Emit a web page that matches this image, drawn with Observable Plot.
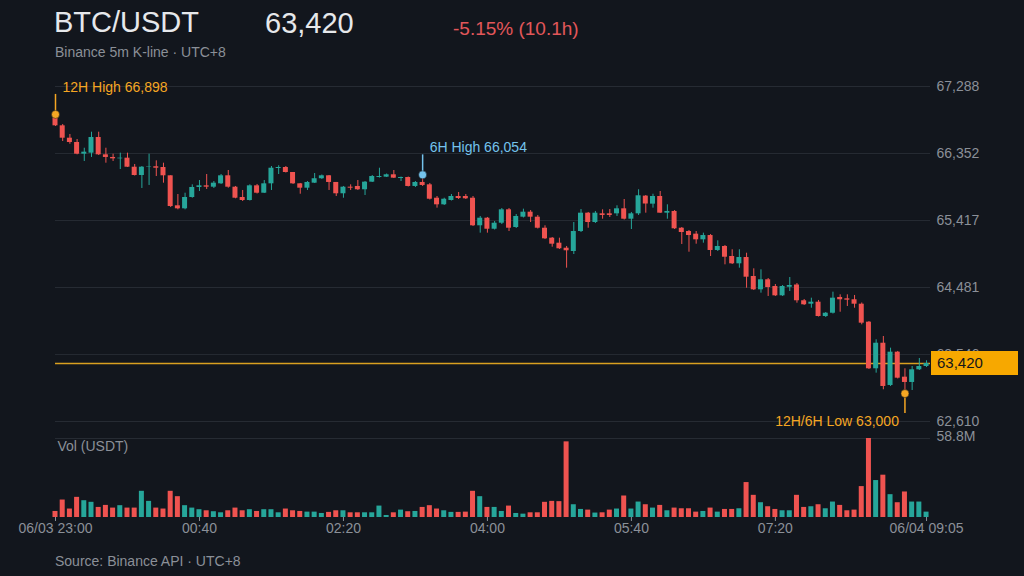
<!DOCTYPE html>
<html>
<head>
<meta charset="utf-8">
<script src="https://cdn.jsdelivr.net/npm/d3@7"></script>
<script src="https://cdn.jsdelivr.net/npm/@observablehq/plot@0.6"></script>
<style>
  html, body { margin: 0; padding: 0; background: #12161d; }
  #wrap { position: relative; width: 1024px; height: 576px; overflow: hidden; background: #12161d;
          font-family: "Liberation Sans", Arial, sans-serif; }
  .abs { position: absolute; white-space: nowrap; }
</style>
</head>
<body>
<div id="wrap">
  <div class="abs" style="left:54px;top:8px;font-size:29px;line-height:29px;color:#e6e8eb;">BTC/USDT</div>
  <div class="abs" style="left:265px;top:9px;font-size:29px;line-height:29px;color:#e6e8eb;">63,420</div>
  <div class="abs" style="left:453px;top:19px;font-size:19px;line-height:19px;color:#e2575a;">-5.15% (10.1h)</div>
  <div class="abs" style="left:55px;top:45px;font-size:14px;line-height:14px;color:#8b9098;">Binance 5m K-line · UTC+8</div>
  <div id="price" class="abs" style="left:0;top:60px;"></div>
  <div id="vol" class="abs" style="left:0;top:430px;"></div>
  <div id="box" class="abs" style="left:931px;width:87px;height:24px;background:#f7a800;color:#14161a;font-size:15px;line-height:24px;text-indent:6px;"></div>
  <div class="abs" style="left:55px;top:554px;font-size:14px;line-height:14px;color:#8b9098;">Source: Binance API · UTC+8</div>
</div>
<script>
// ---- data (5m candles, 06/03 23:00 .. 06/04 09:05, UTC+8) ----
const open = [66845,66739,66566,66506,66343,66357,66576,66334,66297,66278,
66287,66161,66045,66161,66167,66157,66041,65622,65580,65738,
65878,65901,65882,65929,66041,65882,65738,65696,65901,65798,
65929,66143,66157,66087,65929,65868,65938,66000,66041,65948,
65790,65882,65892,65846,65952,66017,66022,66055,66003,66017,
65892,65948,65915,65728,65636,65696,65752,65752,65728,65343,
65449,65295,65379,65566,65319,65463,65533,65463,65309,65170,
65100,65030,64984,65263,65519,65389,65510,65510,65510,65580,
65435,65510,65757,65645,65752,65519,65543,65309,65263,65226,
65147,65207,64998,65054,64914,64812,64900,64635,64449,64589,
64495,64365,64485,64516,64296,64248,64276,64076,64122,64342,
64323,64310,64248,63997,63346,63703,63113,63578,63229,63155,
63332,63378];
const high = [66898,66757,66618,66548,66426,66650,66650,66426,66343,66357,
66357,66199,66171,66343,66250,66217,66041,65780,65798,65915,
65975,66059,65961,66059,66115,65892,65836,65915,65920,65975,
66171,66181,66171,66087,65934,65961,66073,66052,66045,65948,
65892,65915,65975,65961,66045,66147,66066,66115,66024,66024,
65961,66054,65934,65752,65728,65780,65808,65780,65752,65473,
65459,65403,65584,65584,65501,65575,65556,65487,65343,65179,
65170,65054,65389,65570,65529,65543,65566,65570,65622,65710,
65529,65846,65766,65784,65822,65636,65556,65319,65277,65263,
65240,65221,65133,65068,65008,65008,64960,64742,64728,64607,
64523,64509,64621,64537,64314,64332,64300,64132,64416,64379,
64379,64370,64265,64006,63751,63797,63634,63588,63346,63378,
63490,63458];
const low = [66730,66520,66482,66334,66241,66297,66325,66217,66241,66129,
66157,66038,65864,65906,66031,65938,65598,65566,65566,65728,
65822,65850,65864,65920,65868,65720,65682,65689,65787,65794,
65836,66059,66080,65920,65784,65836,65934,65990,65836,65752,
65728,65836,65836,65766,65948,66010,66017,66003,65961,65885,
65878,65892,65703,65589,65626,65689,65710,65710,65333,65240,
65240,65284,65361,65263,65305,65452,65389,65298,65151,65044,
65012,64751,64942,65249,65309,65375,65435,65459,65473,65424,
65291,65487,65519,65589,65515,65435,65291,65082,64974,65086,
65100,64914,64984,64798,64802,64751,64471,64439,64402,64356,
64356,64356,64425,64262,64230,64192,64069,64062,64111,64136,
64216,64192,63960,63336,63285,63053,63099,63204,63000,63043,
63322,63364];
const close = [66739,66566,66506,66343,66371,66576,66334,66297,66278,66287,
66161,66045,66161,66167,66147,66041,65612,65580,65738,65878,
65901,65882,65938,66041,65882,65728,65696,65901,65798,65929,
66147,66157,66087,65929,65868,65948,66000,66041,65948,65790,
65882,65868,65846,65952,66031,66031,66055,66008,66017,65892,
65948,65906,65714,65636,65714,65752,65724,65720,65343,65449,
65295,65379,65566,65309,65473,65533,65463,65309,65161,65086,
65022,64994,65263,65519,65389,65519,65487,65487,65580,65435,
65510,65762,65647,65752,65519,65543,65301,65249,65207,65147,
65207,64998,65054,64904,64812,64900,64625,64449,64589,64481,
64365,64495,64509,64296,64240,64276,64076,64122,64332,64310,
64304,64248,63983,63346,63703,63099,63578,63215,63155,63332,
63378,63420];
// volume in millions of USDT
const volume = [4.5,13.0,6.3,15.0,12.5,11.3,7.5,9.0,7.0,8.8,
7.0,7.0,19.5,12.0,7.0,6.3,19.5,15.5,8.8,7.0,
5.8,5.0,4.3,3.5,5.0,7.0,5.0,5.8,4.5,5.8,
5.8,3.5,6.3,5.0,4.5,4.0,4.0,3.0,3.8,5.0,
5.0,3.5,3.5,3.5,3.5,8.5,1.5,3.5,5.5,4.3,
4.5,7.5,8.8,6.3,5.0,3.8,3.8,4.0,19.5,15.5,
7.5,7.5,4.5,8.5,3.0,2.5,3.5,3.5,11.3,12.0,
11.8,56.3,9.5,6.0,5.5,3.3,3.5,5.5,6.3,16.0,
6.3,11.5,9.5,7.0,9.0,5.0,7.0,6.5,6.5,4.0,
4.5,7.0,4.0,6.0,6.0,6.5,26.0,16.5,11.0,8.0,
6.0,5.0,5.0,16.5,7.5,8.0,9.5,6.5,11.5,9.0,
5.0,5.5,23.0,58.8,27.5,31.5,17.0,11.0,19.0,11.5,
11.5,4.0];
const priceTicks = [62610, 63546, 64481, 65417, 66352, 67288];
const volTicks = [58.8];
const xTickIndex = [0, 20, 40, 60, 80, 100, 121];
const xTickLabels = ["06/03 23:00", "00:40", "02:20", "04:00", "05:40", "07:20", "06/04 09:05"];
const lastPrice = 63420;
// annotations: high/low markers
const annLabels = ["12H High 66,898", "6H High 66,054", "12H/6H Low 63,000"];
const annIndex = [0, 51, 118];
const annPrice = [66898, 66054, 63000];
const annSide = ["above", "above", "below"];

// ---- styling ----
const GREEN = "#26a69a", RED = "#ef5350", ORANGE = "#f5a623", BLUE = "#74c3ec";
const LINE_ORANGE = "#d9a020";
const GRID = "#262b33", LABEL = "#8b9098";
const FONT = '"Liberation Sans", Arial, sans-serif';
const annColors = [ORANGE, BLUE, ORANGE];

const candles = open.map((o, i) => ({
  i, open: o, high: high[i], low: low[i], close: close[i], vol: volume[i]
}));
const col = d => (d.close >= d.open ? GREEN : RED);

const W = 1024;
const PH = 375, PT = 26, PB = 14;
const yDomain = [priceTicks[0], priceTicks[priceTicks.length - 1]];
const unitPerPx = (yDomain[1] - yDomain[0]) / (PH - PT - PB);
const xDomain = [0, 121.55];

const ann = annLabels.map((label, k) => {
  const dir = annSide[k] === "above" ? 1 : -1;
  return {
    label, i: annIndex[k], price: annPrice[k], color: annColors[k],
    tip: annPrice[k] + dir * 20 * unitPerPx, dir
  };
});

const pricePlot = Plot.plot({
  width: W, height: PH,
  marginLeft: 55, marginRight: 94, marginTop: PT, marginBottom: PB,
  style: { background: "transparent", color: LABEL, fontSize: "14px", fontFamily: FONT, overflow: "visible" },
  x: { domain: xDomain, axis: null },
  y: { domain: yDomain, label: null },
  marks: [
    Plot.ruleY(priceTicks, { stroke: GRID, strokeWidth: 1 }),
    Plot.axisY(priceTicks, { anchor: "right", label: null, tickSize: 0, tickPadding: 6, tickFormat: d3.format(","), fill: LABEL, fontSize: 14 }),
    Plot.ruleY([lastPrice], { stroke: LINE_ORANGE, strokeWidth: 1.6 }),
    Plot.ruleX(candles, { x: "i", y1: "low", y2: "high", stroke: col, strokeWidth: 1 }),
    Plot.rect(candles, {
      x1: d => d.i - 0.5, x2: d => d.i + 0.5, insetLeft: 1.1, insetRight: 1.1,
      y1: "open", y2: "close", fill: col
    }),
    Plot.ruleX(ann, { x: "i", y1: "price", y2: "tip", stroke: d => d.color, strokeWidth: 1.5 }),
    Plot.dot(ann, { x: "i", y: "price", r: 4, fill: d => d.color, stroke: "#12161d", strokeWidth: 0.5 }),
    Plot.text(ann.filter(d => d.dir > 0), {
      x: "i", y: "price", text: "label", fill: d => d.color, dx: 7, dy: -27,
      textAnchor: "start", lineAnchor: "middle", fontSize: 14
    }),
    Plot.text(ann.filter(d => d.dir < 0), {
      x: "i", y: "price", text: "label", fill: d => d.color, dx: -6, dy: 28,
      textAnchor: "end", lineAnchor: "middle", fontSize: 14
    })
  ]
});
document.getElementById("price").appendChild(pricePlot);

// current price tag, placed through the plot's y scale
const yPx = pricePlot.scale("y").apply(lastPrice);
const box = document.getElementById("box");
box.textContent = d3.format(",")(lastPrice);
box.style.top = (60 + yPx - 12) + "px";

const volPlot = Plot.plot({
  width: W, height: 110,
  marginLeft: 55, marginRight: 94, marginTop: 8, marginBottom: 23,
  style: { background: "transparent", color: LABEL, fontSize: "14px", fontFamily: FONT, overflow: "visible" },
  x: { domain: xDomain, label: null },
  y: { domain: [0, volTicks[0]], label: null },
  marks: [
    Plot.ruleY(volTicks, { stroke: GRID, strokeWidth: 1 }),
    Plot.axisY(volTicks, { anchor: "right", label: null, tickSize: 0, tickPadding: 6, tickFormat: d => d + "M", fill: LABEL, fontSize: 14, dy: -2 }),
    Plot.text(["Vol (USDT)"], { frameAnchor: "top-left", dx: 2, dy: 8, textAnchor: "start", lineAnchor: "middle", fill: LABEL, fontSize: 14 }),
    Plot.rect(candles, {
      x1: d => d.i - 0.5, x2: d => d.i + 0.5, insetLeft: 1.1, insetRight: 1.1,
      y1: 0, y2: "vol", fill: col
    }),
    Plot.axisX(xTickIndex, {
      anchor: "bottom", label: null, tickSize: 4, tickPadding: 2, stroke: LABEL,
      tickFormat: (d) => xTickLabels[xTickIndex.indexOf(d)], fill: LABEL, fontSize: 14
    })
  ]
});
document.getElementById("vol").appendChild(volPlot);
</script>
</body>
</html>
